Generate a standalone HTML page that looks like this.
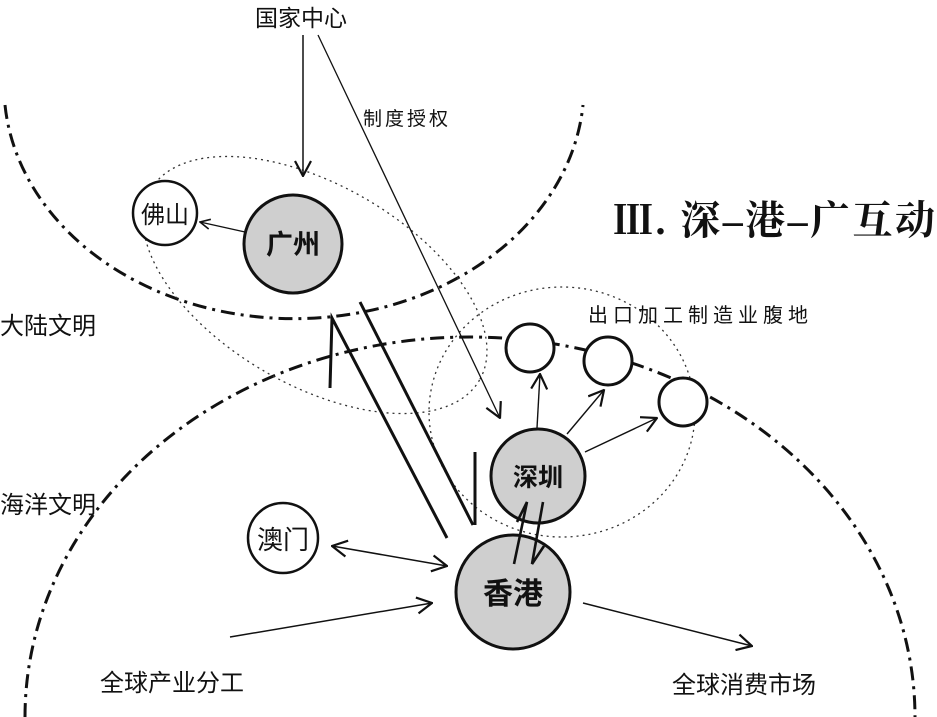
<!DOCTYPE html>
<html><head><meta charset="utf-8"><style>
html,body{margin:0;padding:0;background:#fff}
svg{display:block}
text{font-family:"Liberation Sans","Noto Sans CJK SC",sans-serif;fill:#111}
</style></head><body>
<svg width="937" height="717" viewBox="0 0 937 717" xmlns="http://www.w3.org/2000/svg">
<defs>
<marker id="a" viewBox="0 0 12 12" refX="11" refY="6" markerWidth="12" markerHeight="12" markerUnits="userSpaceOnUse" orient="auto"><path d="M1 1 L11 6 L1 11" fill="none" stroke="#111" stroke-width="1.6"/></marker>
<marker id="b" viewBox="0 0 18 18" refX="17" refY="9" markerWidth="18" markerHeight="18" markerUnits="userSpaceOnUse" orient="auto"><path d="M2 1 L17 9 L2 17" fill="none" stroke="#111" stroke-width="2.2"/></marker>
<marker id="bs" viewBox="0 0 18 18" refX="1" refY="9" markerWidth="18" markerHeight="18" markerUnits="userSpaceOnUse" orient="auto"><path d="M16 1 L1 9 L16 17" fill="none" stroke="#111" stroke-width="2.2"/></marker>
</defs>
<path d="M5 105 A290 233 0 0 0 583 105" fill="none" stroke="#111" stroke-width="3" stroke-dasharray="14 6 3 6"/>
<path d="M25 717 A445 380 0 0 1 915 717" fill="none" stroke="#111" stroke-width="3" stroke-dasharray="14 6 3 6"/>
<ellipse cx="315" cy="285" rx="190" ry="100" transform="rotate(30 315 285)" fill="none" stroke="#333" stroke-width="1.3" stroke-dasharray="2 4"/>
<ellipse cx="562" cy="412" rx="133" ry="125" fill="none" stroke="#333" stroke-width="1.3" stroke-dasharray="2 4"/>
<line x1="303" y1="35" x2="303" y2="176" stroke="#111" stroke-width="1.5" marker-end="url(#b)"/>
<line x1="318" y1="35" x2="500" y2="418" stroke="#111" stroke-width="1.3" marker-end="url(#b)"/>
<polyline points="330,388 332,318 447,538" fill="none" stroke="#111" stroke-width="3"/>
<line x1="360" y1="302" x2="473" y2="525" stroke="#111" stroke-width="3"/>
<line x1="475" y1="452" x2="475" y2="525" stroke="#111" stroke-width="3"/>
<circle cx="293" cy="244" r="49" fill="#cfcfcf" stroke="#111" stroke-width="3"/>
<circle cx="165" cy="213" r="32" fill="#fff" stroke="#111" stroke-width="2.5"/>
<circle cx="538" cy="476" r="47" fill="#cfcfcf" stroke="#111" stroke-width="3"/>
<circle cx="513" cy="592" r="57" fill="#cfcfcf" stroke="#111" stroke-width="3"/>
<circle cx="283" cy="538" r="35" fill="#fff" stroke="#111" stroke-width="2.5"/>
<circle cx="530" cy="348" r="24" fill="#fff" stroke="#111" stroke-width="3"/>
<circle cx="608" cy="361" r="24" fill="#fff" stroke="#111" stroke-width="3"/>
<circle cx="683" cy="402" r="24" fill="#fff" stroke="#111" stroke-width="3"/>
<polyline points="514,564 527,502 517,522" fill="none" stroke="#111" stroke-width="2.6"/>
<polyline points="543,502 532,564 544,546" fill="none" stroke="#111" stroke-width="2.6"/>
<line x1="245" y1="232" x2="200" y2="222" stroke="#111" stroke-width="1.4" marker-end="url(#a)"/>
<line x1="537" y1="428" x2="540" y2="374" stroke="#111" stroke-width="1.4" marker-end="url(#b)"/>
<line x1="567" y1="434" x2="604" y2="390" stroke="#111" stroke-width="1.4" marker-end="url(#b)"/>
<line x1="585" y1="452" x2="657" y2="418" stroke="#111" stroke-width="1.4" marker-end="url(#b)"/>
<line x1="332" y1="546" x2="447" y2="566" stroke="#111" stroke-width="1.5" marker-start="url(#bs)" marker-end="url(#b)"/>
<line x1="230" y1="637" x2="432" y2="603" stroke="#111" stroke-width="1.5" marker-end="url(#b)"/>
<line x1="583" y1="603" x2="752" y2="646" stroke="#111" stroke-width="1.5" marker-end="url(#b)"/>
<text x="301" y="26" font-size="23" text-anchor="middle">国家中心</text>
<text x="363" y="125" font-size="19" fill="#333" letter-spacing="3">制度授权</text>
<text x="293" y="254" font-size="27" font-weight="bold" text-anchor="middle">广州</text>
<text x="165" y="223" font-size="24" text-anchor="middle">佛山</text>
<text x="538" y="486" font-size="25" font-weight="bold" text-anchor="middle">深圳</text>
<text x="513" y="604" font-size="30" font-weight="bold" text-anchor="middle">香港</text>
<text x="283" y="549" font-size="26" text-anchor="middle">澳门</text>
<text x="0" y="334" font-size="24">大陆文明</text>
<text x="0" y="513" font-size="24">海洋文明</text>
<text x="100" y="691" font-size="24">全球产业分工</text>
<text x="672" y="693" font-size="24">全球消费市场</text>
<text x="588" y="322" font-size="20" font-family="'Noto Serif CJK SC',serif" letter-spacing="5">出口加工制造业腹地</text>
<text x="613" y="234" font-size="40" font-weight="bold" textLength="322" lengthAdjust="spacing" style="font-family:'Liberation Serif','Noto Serif CJK SC',serif">Ⅲ. 深–港–广互动</text>
</svg>
</body></html>
